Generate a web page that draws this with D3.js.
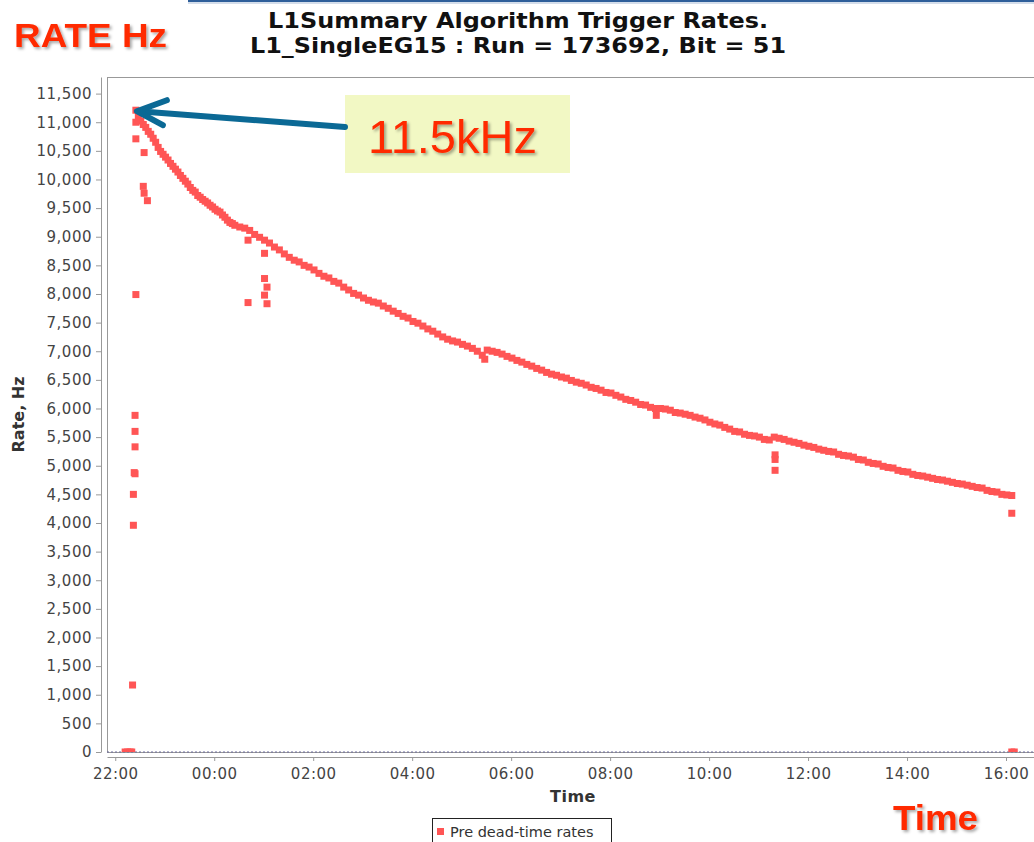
<!DOCTYPE html>
<html>
<head>
<meta charset="UTF-8">
<script src="https://d3js.org/d3.v7.min.js"></script>
<style>
  body { margin: 0; background: #fff; }
  svg { display: block; }
  text { font-family: "DejaVu Sans", sans-serif; }
</style>
</head>
<body>
<div id="chart"></div>
<script>
// chart texts
const titleLines = ['L1Summary Algorithm Trigger Rates.', 'L1_SingleEG15 : Run = 173692, Bit = 51'];
const seriesName = 'Pre dead-time rates';
const xLabel = 'Time';
const yLabel = 'Rate, Hz';
const noteText = '11.5kHz';

// tick labels
const xTickLabels = ['22:00', '00:00', '02:00', '04:00', '06:00', '08:00', '10:00', '12:00', '14:00', '16:00'];
const yTicks = [0, 500, 1000, 1500, 2000, 2500, 3000, 3500, 4000, 4500, 5000, 5500,
  6000, 6500, 7000, 7500, 8000, 8500, 9000, 9500, 10000, 10500, 11000, 11500];

// first two hours of the fill: one reading every 3 minutes from 22:25
const earlyStartMinute = 25;   // minutes after 22:00
const earlyStepMinutes = 3;
const earlyRates = [
  11210, 11100, 11020, 10960, 10910, 10840, 10790, 10720, 10650, 10560,
  10490, 10440, 10390, 10340, 10280, 10230, 10180, 10130, 10070, 10020,
  9970, 9920, 9860, 9810, 9780, 9720, 9690, 9650, 9620, 9590,
  9550, 9520, 9480, 9450, 9430, 9380, 9340, 9290, 9250, 9230
];

// rest of the fill: one reading every 6 minutes from 00:25
const lateStartMinute = 145;
const lateStepMinutes = 6;
const lateRates = [
  9200, 9170, 9150, 9110, 9040, 8990, 8940, 8890, 8820, 8770,
  8700, 8640, 8590, 8560, 8500, 8470, 8420, 8360, 8310, 8280,
  8220, 8190, 8120, 8070, 8010, 7980, 7930, 7890, 7860, 7840,
  7790, 7750, 7700, 7660, 7610, 7580, 7520, 7490, 7440, 7390,
  7350, 7300, 7250, 7210, 7180, 7160, 7120, 7090, 7050, 7000,
  6930, 7020, 7000, 6980, 6950, 6910, 6880, 6840, 6810, 6770,
  6740, 6700, 6670, 6630, 6600, 6580, 6550, 6530, 6490, 6460,
  6440, 6410, 6370, 6350, 6320, 6280, 6270, 6230, 6200, 6160,
  6140, 6110, 6070, 6060, 6020, 6000, 6000, 5990, 5970, 5930,
  5920, 5900, 5880, 5850, 5830, 5800, 5760, 5730, 5710, 5670,
  5640, 5600, 5590, 5550, 5530, 5520, 5500, 5460, 5450, 5500,
  5480, 5460, 5430, 5410, 5390, 5360, 5340, 5320, 5290, 5270,
  5250, 5240, 5200, 5180, 5170, 5150, 5110, 5100, 5060, 5040,
  5030, 4990, 4970, 4960, 4920, 4900, 4890, 4850, 4830, 4820,
  4800, 4780, 4760, 4750, 4730, 4710, 4690, 4680, 4660, 4640,
  4620, 4610, 4570, 4550, 4540, 4500, 4490, 4480
];

// stray readings off the band (minutes after 22:00, rate in Hz)
const strayMinutes = [12, 15, 18, 20, 21, 22, 22, 23, 24, 24, 24, 24, 25, 25, 25,
  34, 35, 35, 39, 161, 161, 181, 181, 181, 184, 184, 448, 656, 800, 800, 800,
  1087, 1087, 1090];
const strayRates = [0, 0, 0, 0, 1170, 3960, 4500, 4880, 4860, 5330, 5600, 5880, 7990, 10710, 11000,
  9880, 10470, 9760, 9630, 8940, 7850, 8710, 8270, 7980, 8120, 7830, 6860, 5880, 5190, 5110, 4920,
  4170, 0, 0];

const W = 1034, H = 842;
const plot = { left: 107, top: 77, right: 1039, bottom: 752 };
const t0 = Date.UTC(2011, 8, 24, 22, 0);
const at = m => new Date(t0 + m * 60000);
const clockMinutes = s => {
  const [h, m] = s.split(':').map(Number);
  return ((h - 22 + 24) % 24) * 60 + m;
};

const points = earlyRates.map((r, i) => ({ t: at(earlyStartMinute + i * earlyStepMinutes), r }))
  .concat(lateRates.map((r, i) => ({ t: at(lateStartMinute + i * lateStepMinutes), r })))
  .concat(strayRates.map((r, i) => ({ t: at(strayMinutes[i]), r })));

const svg = d3.select('#chart').append('svg')
  .attr('width', W).attr('height', H);

const defs = svg.append('defs');
defs.append('clipPath').attr('id', 'plotclip')
  .append('rect')
  .attr('x', plot.left).attr('y', plot.top)
  .attr('width', plot.right - plot.left).attr('height', plot.bottom - plot.top);
const shadow = defs.append('filter').attr('id', 'shadow')
  .attr('x', '-10%').attr('y', '-20%').attr('width', '130%').attr('height', '150%');
shadow.append('feDropShadow')
  .attr('dx', 2).attr('dy', 2).attr('stdDeviation', 1.5)
  .attr('flood-color', '#000').attr('flood-opacity', 0.35);

const x = d3.scaleUtc().domain([at(-10), at(1120)]).range([plot.left, plot.right]);
const y = d3.scaleLinear().domain([0, 11790]).range([plot.bottom, plot.top]);

// window edge at the very top
svg.append('line').attr('x1', 188).attr('x2', W).attr('y1', 1).attr('y2', 1)
  .attr('stroke', '#2f5f9a').attr('stroke-width', 2);
svg.append('line').attr('x1', 188).attr('x2', W).attr('y1', 3).attr('y2', 3)
  .attr('stroke', '#a9bcd6').attr('stroke-width', 1);

// titles
const titleWidths = [500, 536];
svg.selectAll('.title').data(titleLines).enter().append('text')
  .attr('class', 'title')
  .attr('x', 518).attr('y', (d, i) => 28 + i * 25)
  .attr('text-anchor', 'middle')
  .attr('font-size', 21.5).attr('font-weight', 'bold').attr('fill', '#111')
  .attr('textLength', (d, i) => titleWidths[i]).attr('lengthAdjust', 'spacingAndGlyphs')
  .text(d => d);

// plot frame
svg.append('rect')
  .attr('x', plot.left + 0.5).attr('y', plot.top + 0.5)
  .attr('width', plot.right - plot.left).attr('height', plot.bottom - plot.top)
  .attr('fill', '#fff').attr('stroke', '#999');

// zero marker
svg.append('line')
  .attr('x1', plot.left).attr('x2', plot.right)
  .attr('y1', y(0)).attr('y2', y(0))
  .attr('stroke', '#6b6b9c').attr('stroke-dasharray', '2,2');

// axes
const yAxis = svg.append('g')
  .attr('transform', `translate(${plot.left - 6},0)`)
  .call(d3.axisLeft(y).tickValues(yTicks).tickSize(5).tickSizeOuter(0)
    .tickPadding(4).tickFormat(d3.format(',')));
const xAxis = svg.append('g')
  .attr('transform', `translate(0,${plot.bottom + 5})`)
  .call(d3.axisBottom(x).tickValues(xTickLabels.map(s => at(clockMinutes(s))))
    .tickSize(4).tickSizeOuter(0).tickPadding(7).tickFormat(d3.utcFormat('%H:%M')));
[yAxis, xAxis].forEach(g => {
  g.select('.domain').attr('stroke', '#999');
  g.selectAll('.tick line').attr('stroke', '#999');
  g.selectAll('.tick text').attr('font-size', 15).attr('fill', '#444')
    .attr('letter-spacing', '0.5px').style('font-family', '"DejaVu Sans", sans-serif');
});

// axis labels
svg.append('text')
  .attr('x', (plot.left + plot.right) / 2).attr('y', 802)
  .attr('text-anchor', 'middle')
  .attr('font-size', 16).attr('font-weight', 'bold').attr('fill', '#333')
  .attr('letter-spacing', '0.5px')
  .text(xLabel);
svg.append('text')
  .attr('transform', `translate(24,${(plot.top + plot.bottom) / 2}) rotate(-90)`)
  .attr('text-anchor', 'middle')
  .attr('font-size', 16).attr('font-weight', 'bold').attr('fill', '#333')
  .text(yLabel);

// data
const size = 7;
svg.append('g').attr('clip-path', 'url(#plotclip)')
  .selectAll('rect').data(points).enter().append('rect')
  .attr('x', d => x(d.t) - size / 2)
  .attr('y', d => y(d.r) - size / 2)
  .attr('width', size).attr('height', size)
  .attr('fill', '#ff5555');

// legend
const legend = svg.append('g');
legend.append('rect')
  .attr('x', 432.5).attr('y', 818.5).attr('width', 179).attr('height', 40)
  .attr('fill', '#fff').attr('stroke', '#222');
legend.append('rect')
  .attr('x', 437).attr('y', 828).attr('width', 7).attr('height', 7)
  .attr('fill', '#ff5555');
legend.append('text')
  .attr('x', 450).attr('y', 837)
  .attr('font-size', 14.5).attr('fill', '#333')
  .text(seriesName);

// slide annotations
svg.append('text')
  .attr('x', 14).attr('y', 47)
  .attr('font-size', 34).attr('font-weight', 'bold').attr('fill', '#ff2a00')
  .attr('textLength', 153).attr('lengthAdjust', 'spacingAndGlyphs')
  .attr('filter', 'url(#shadow)')
  .style('font-family', '"Liberation Sans", Arial, sans-serif')
  .text('RATE Hz');
svg.append('text')
  .attr('x', 893).attr('y', 830)
  .attr('font-size', 35).attr('font-weight', 'bold').attr('fill', '#ff2a00')
  .attr('textLength', 85).attr('lengthAdjust', 'spacingAndGlyphs')
  .attr('filter', 'url(#shadow)')
  .style('font-family', '"Liberation Sans", Arial, sans-serif')
  .text('Time');

svg.append('rect')
  .attr('x', 345).attr('y', 95).attr('width', 225).attr('height', 78)
  .attr('fill', '#f2f8c4');
svg.append('text')
  .attr('x', 368).attr('y', 153)
  .attr('font-size', 46).attr('fill', '#ff2a00')
  .attr('textLength', 169).attr('lengthAdjust', 'spacingAndGlyphs')
  .attr('filter', 'url(#shadow)')
  .style('font-family', '"Liberation Sans", Arial, sans-serif')
  .text(noteText);

// arrow to the peak
const tip = [x(at(earlyStartMinute)) + 1, y(earlyRates[0]) + 1];
const arrow = svg.append('g')
  .attr('stroke', '#0b6995').attr('stroke-width', 6)
  .attr('stroke-linecap', 'round').attr('fill', 'none');
arrow.append('line')
  .attr('x1', 345).attr('y1', 127).attr('x2', tip[0] + 2).attr('y2', tip[1]);
arrow.append('path')
  .attr('stroke-linejoin', 'round')
  .attr('d', `M${tip[0] + 30},${tip[1] - 11} L${tip[0]},${tip[1]} L${tip[0] + 26},${tip[1] + 14}`);
</script>
</body>
</html>
